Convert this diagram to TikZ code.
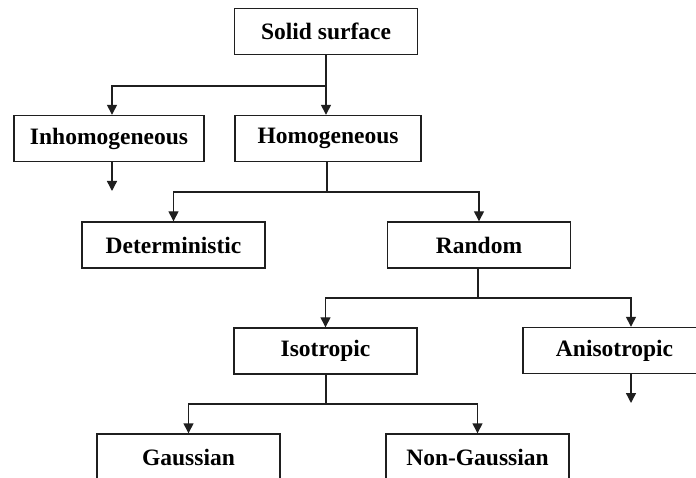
\documentclass[tikz,border=0pt]{standalone}
\usepackage{fontspec}
\setmainfont{Liberation Serif}
\usetikzlibrary{arrows.meta}
\begin{document}
\begin{tikzpicture}[x=1pt,y=-1pt,
  box/.style={draw=black!88,line width=1.4pt,rectangle,inner sep=0pt,
    minimum width=183pt,minimum height=46pt,
    font=\fontsize{23.5}{28}\selectfont\bfseries},
  line/.style={draw=black!88,line width=1.4pt},
  arr/.style={line,-{Triangle[length=10pt,width=10pt]}}]
\useasboundingbox (0,0) rectangle (696,478);
\clip (0,0) rectangle (696,478);
% boxes
\node[box] (solid) at (326,31.5) {Solid surface};
\node[box,minimum width=190pt] (inh) at (109,138.5) {Inhomogeneous};
\node[box,minimum width=186pt] (hom) at (328,138.5) {Homogeneous};
\node[box] (det) at (173.5,245) {Deterministic};
\node[box] (ran) at (479,245) {Random};
\node[box] (iso) at (325.5,351) {Isotropic};
\node[box] (ani) at (614.5,350.5) {Anisotropic};
\node[box] (gau) at (188.5,457) {Gaussian};
\node[box] (ngau) at (477.5,457) {Non-Gaussian};
% junctions
\coordinate (j1) at (326,86);
\coordinate (j2) at (327,192);
\coordinate (j3) at (478,298);
\coordinate (j4) at (326,404);
\coordinate (inhA) at (112,86);
\coordinate (inhEnd) at (112,191);
\coordinate (aniA) at (631,298);
\coordinate (aniEnd) at (631,403);
% connectors
\draw[line] (solid.south) -- (j1);
\draw[arr] (j1) -- (inhA) -- (inhA |- inh.north);
\draw[arr] (j1) -- (j1 |- hom.north);
\draw[arr] (inh.south -| inhEnd) -- (inhEnd);
\draw[line] (hom.south -| j2) -- (j2);
\draw[arr] (j2) -| (det.north);
\draw[arr] (j2) -| (ran.north);
\draw[line] (ran.south -| j3) -- (j3);
\draw[arr] (j3) -| (iso.north);
\draw[arr] (j3) -- (aniA) -- (aniA |- ani.north);
\draw[arr] (ani.south -| aniEnd) -- (aniEnd);
\draw[line] (iso.south -| j4) -- (j4);
\draw[arr] (j4) -| (gau.north);
\draw[arr] (j4) -| (ngau.north);
\end{tikzpicture}
\end{document}
